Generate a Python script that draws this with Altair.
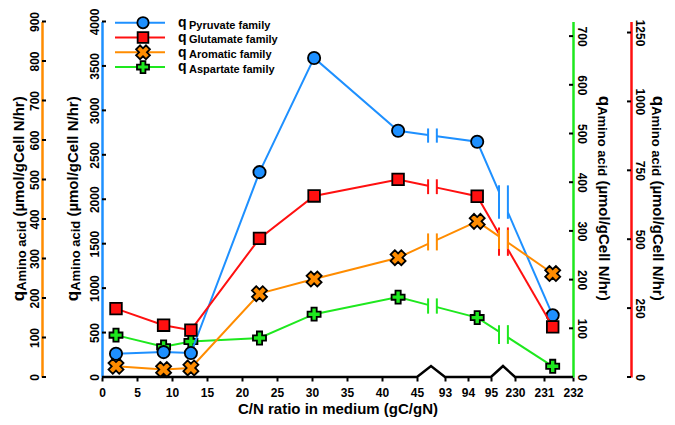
import altair as alt
import pandas as pd
import numpy as np

# ---------------- data ----------------
cn_ratio = [2.0, 8.8, 12.7, 22.5, 30.3, 42.3, 94.4, 231.3]
q_pyruvate = [261, 280, 269, 2305, 3590, 2770, 2647, 694]
q_glutamate = [248, 188, 170, 503, 657, 717, 656, 182]
q_aromatic = [27, 19, 23, 211, 248, 302, 394, 262]
q_aspartate = [86, 62, 73, 80, 129, 164, 122, 22]

family_names = ["Pyruvate family", "Glutamate family", "Aromatic family", "Aspartate family"]
x_tick_values = [0, 5, 10, 15, 20, 25, 30, 35, 40, 45, 93, 94, 95, 230, 231, 232]
pyruvate_ticks = [0, 500, 1000, 1500, 2000, 2500, 3000, 3500, 4000]
glutamate_ticks = [0, 250, 500, 750, 1000, 1250]
aromatic_ticks = [0, 100, 200, 300, 400, 500, 600, 700, 800, 900]
aspartate_ticks = [0, 100, 200, 300, 400, 500, 600, 700]
x_title = "C/N ratio in medium (gC/gN)"
y_title_parts = ["q", "Amino acid", " (µmol/gCell N/hr)"]
legend_q = "q"

# ---------------- layout / style ----------------
PAD_T = 13.5
W, H = 471, 355.5
FONT = "Liberation Sans"
X_DOMAIN = [0, 45, 93, 95, 230, 232]
X_RANGE = [0, 315, 343, 389, 413, 471]
AXIS_BREAKS = [(45, 93), (95, 230)]
LINE_GAPS = [(64, 79), (140, 190)]
BREAK_PEAK = 11
OUT_L = 60   # offset of the outer left axis
OUT_R = 58   # offset of the outer right axis
TOP = 8 + PAD_T  # page y of the plot top

EM = {'q': .611, 'A': .722, 'm': .889, 'i': .278, 'n': .611, 'o': .611, ' ': .278,
      'a': .556, 'c': .556, 'd': .611, '(': .333, 'µ': .611, 'l': .278, '/': .278,
      'g': .611, 'C': .722, 'e': .556, 'N': .722, 'h': .611, 'r': .389, ')': .333}


def px(x):
    return float(np.interp(x, X_DOMAIN, X_RANGE))


def text_w(s, fs):
    return sum(EM.get(c, .6) for c in s) * fs


xscale = alt.Scale(domain=X_DOMAIN, range=X_RANGE, nice=False, zero=False)
xaxis = alt.Axis(values=x_tick_values, format="d", domain=False, grid=False, tickColor="black",
                 tickWidth=2, tickSize=4, labelFont=FONT, labelFontSize=12, labelFontWeight="bold",
                 labelColor="black", labelPadding=6, labelFlush=False, labelOverlap=False,
                 title=x_title, titleFont=FONT, titleFontSize=15, titleFontWeight="bold",
                 titleColor="black", titleBaseline="alphabetic", titleY=36.5)
x_enc = alt.X("x:Q", scale=xscale, axis=xaxis)

series = [
    dict(name="Aspartate family", v=q_aspartate, color="#1EE81E", shape="cross", angle=0,
         size=170, ymax=730, orient="right", offset=0, ticks=aspartate_ticks, tx=(W - 4, W)),
    dict(name="Pyruvate family", v=q_pyruvate, color="#1E90FF", shape="circle", angle=0,
         size=150, ymax=4000, orient="left", offset=0, ticks=pyruvate_ticks, tx=(0, 4)),
    dict(name="Glutamate family", v=q_glutamate, color="#FF1010", shape="square", angle=0,
         size=135, ymax=1290, orient="right", offset=OUT_R, ticks=glutamate_ticks,
         tx=(W + OUT_R - 4, W + OUT_R)),
    dict(name="Aromatic family", v=q_aromatic, color="#FF8C00", shape="cross", angle=45,
         size=230, ymax=900, orient="left", offset=OUT_L, ticks=aromatic_ticks,
         tx=(-OUT_L, -OUT_L + 4)),
]


def series_layer(s):
    xs, vs, ymax = cn_ratio, s["v"], s["ymax"]
    rows, brk = [], []
    seg = 0
    for i in range(len(xs)):
        rows.append(dict(x=xs[i], v=vs[i], seg=seg))
        if i + 1 < len(xs):
            for lo, hi in LINE_GAPS:
                if xs[i] < lo and hi < xs[i + 1]:
                    p0, p1 = px(xs[i]), px(xs[i + 1])
                    vl = vs[i] + (px(lo) - p0) / (p1 - p0) * (vs[i + 1] - vs[i])
                    vr = vs[i] + (px(hi) - p0) / (p1 - p0) * (vs[i + 1] - vs[i])
                    rows.append(dict(x=lo, v=vl, seg=seg))
                    seg += 1
                    rows.append(dict(x=hi, v=vr, seg=seg))
                    e = 6.5 * ymax / H
                    for g in (lo, hi):
                        brk.append(dict(x=g, t0=min(vl, vr) - e, t1=max(vl, vr) + e))
    yscale = alt.Scale(domain=[0, ymax], nice=False, zero=False)
    left = s["orient"] == "left"
    yaxis = alt.Axis(orient=s["orient"], offset=s["offset"], values=s["ticks"], format="d",
                     grid=False, domainColor=s["color"], domainWidth=2.5, ticks=False,
                     labelAngle=270 if left else 90, labelAlign="center", labelBaseline="bottom",
                     labelFont=FONT, labelFontSize=12, labelFontWeight="bold", labelColor="black",
                     labelPadding=1, labelFlush=False, labelOverlap=False, title=None)
    yt = alt.Chart(pd.DataFrame(dict(v=s["ticks"]))).mark_rule(color="black", strokeWidth=2).encode(
        x=alt.value(s["tx"][0]), x2=alt.value(s["tx"][1]),
        y=alt.Y("v:Q", scale=yscale, axis=yaxis))
    line = alt.Chart(pd.DataFrame(rows)).mark_line(color=s["color"], strokeWidth=2).encode(
        x=x_enc, y=alt.Y("v:Q", scale=yscale, axis=yaxis), detail="seg:N")
    br = alt.Chart(pd.DataFrame(brk)).mark_rule(color=s["color"], strokeWidth=2).encode(
        x=x_enc, y=alt.Y("v:Q", scale=yscale, axis=yaxis), y2="v2:Q")
    br = br.transform_calculate(v="datum.t0", v2="datum.t1")
    pts = alt.Chart(pd.DataFrame(dict(x=xs, v=vs))).mark_point(
        shape=s["shape"], angle=s["angle"], size=s["size"], filled=True, fill=s["color"],
        stroke="black", strokeWidth=1.8, opacity=1).encode(
        x=x_enc, y=alt.Y("v:Q", scale=yscale, axis=yaxis))
    return alt.layer(yt, line, br, pts)


# custom x-axis line with break symbols
ax_x, ax_y = [X_DOMAIN[0]], [H]
for a, b in AXIS_BREAKS:
    ax_x += [a, (a + b) / 2, b]
    ax_y += [H, H - BREAK_PEAK, H]
ax_x.append(X_DOMAIN[-1])
ax_y.append(H)
axis_path = alt.Chart(pd.DataFrame(dict(x=ax_x, py=ax_y))).mark_line(
    color="black", strokeWidth=2.5, strokeJoin="miter").encode(
    x=x_enc, y=alt.Y("py:Q", scale=None, axis=None))

# y-axis titles (q large, subscript small, unit normal)
TITLE_SIZES = [17, 13, 15]
TITLE_CY = 198.5 - TOP


def title_rows(base_x, center_y, direction):
    widths = [text_w(t, fs) for t, fs in zip(y_title_parts, TITLE_SIZES)]
    total = sum(widths)
    pos = center_y - direction * total / 2
    out = []
    for k, (t, fs, w) in enumerate(zip(y_title_parts, TITLE_SIZES, widths)):
        lead = text_w(t[:len(t) - len(t.lstrip())], fs)
        dx = (1.5 if k == 1 else 0) * (-direction)
        out.append(dict(t=t.strip(), tx=base_x + dx, ty=pos + direction * lead, fs=fs,
                        ang=270 if direction < 0 else 90))
        pos += direction * w
    return out


trows = []
trows += title_rows(-78, TITLE_CY, -1)            # aromatic (orange) axis
trows += title_rows(-24, TITLE_CY, -1)            # pyruvate (blue) axis
trows += title_rows(W + 26, TITLE_CY, 1)           # aspartate (green) axis
trows += title_rows(W + OUT_R + 22, TITLE_CY, 1)   # glutamate (red) axis
titles = alt.Chart(pd.DataFrame(trows)).mark_text(
    font=FONT, fontWeight="bold", align="left", baseline="alphabetic", color="black").encode(
    x=alt.X("tx:Q", scale=None, axis=None), y=alt.Y("ty:Q", scale=None, axis=None),
    text="t:N", size=alt.Size("fs:Q", scale=None, legend=None),
    angle=alt.Angle("ang:Q", scale=None, legend=None))

# legend
by_name = {s["name"]: s for s in series}
lrows = []
for i, nm in enumerate(family_names):
    s = by_name[nm]
    cy = 22.7 - TOP + 14.8 * i
    lrows.append(dict(name=nm, cy=cy, color=s["color"], shape=s["shape"], ang=s["angle"],
                      sz=s["size"] * 0.85, qy=cy + 4.2, sy=cy + 5.8, q=legend_q))
ldf = pd.DataFrame(lrows)
leg_lines = alt.Chart(ldf).mark_rule(strokeWidth=2).encode(
    x=alt.value(13), x2=alt.value(63), y=alt.Y("cy:Q", scale=None, axis=None),
    color=alt.Color("color:N", scale=None, legend=None))
leg_pts = alt.Chart(ldf).mark_point(filled=True, stroke="black", strokeWidth=1.8, opacity=1).encode(
    x=alt.value(41), y=alt.Y("cy:Q", scale=None, axis=None),
    fill=alt.Fill("color:N", scale=None, legend=None),
    shape=alt.Shape("shape:N", scale=None, legend=None),
    angle=alt.Angle("ang:Q", scale=None, legend=None),
    size=alt.Size("sz:Q", scale=None, legend=None))
leg_q = alt.Chart(ldf).mark_text(font=FONT, fontWeight="bold", fontSize=14, align="left",
                                 baseline="alphabetic", color="black").encode(
    x=alt.value(76), y=alt.Y("qy:Q", scale=None, axis=None), text="q:N")
leg_t = alt.Chart(ldf).mark_text(font=FONT, fontWeight="bold", fontSize=11, align="left",
                                 baseline="alphabetic", color="black").encode(
    x=alt.value(87), y=alt.Y("sy:Q", scale=None, axis=None), text="name:N")

chart = alt.layer(axis_path, *[series_layer(s) for s in series],
                  leg_lines, leg_pts, leg_q, leg_t, titles).resolve_scale(
    y="independent").resolve_axis(y="independent").properties(
    width=W, height=H, autosize=alt.AutoSizeParams(type="none"),
    padding={"left": 94, "top": PAD_T, "right": 94, "bottom": 40}).configure_view(stroke=None)

chart.save("out.html", embed_options={"renderer": "svg", "actions": False})
